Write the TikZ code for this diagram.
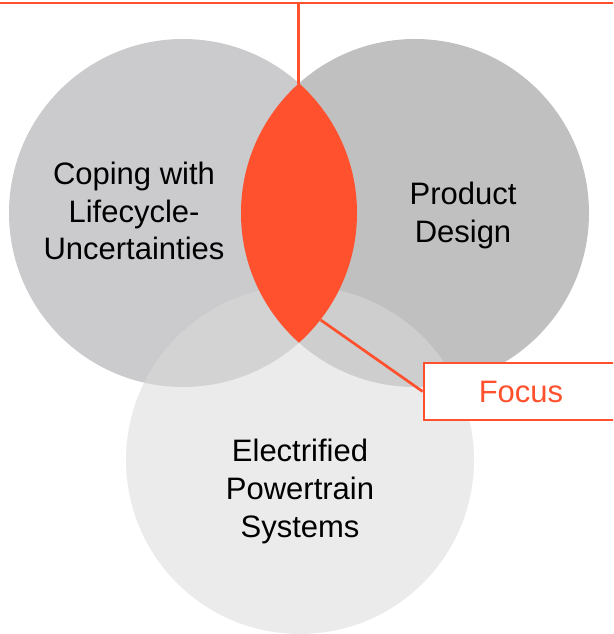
\documentclass[tikz,border=0pt]{standalone}
\usepackage{fontspec}
\setmainfont{Liberation Sans}
\definecolor{accent}{RGB}{255,81,46}
\definecolor{greyL}{RGB}{203,203,205}
\definecolor{greyR}{RGB}{192,192,192}
\definecolor{greyB}{RGB}{219,219,219}
\begin{document}
\begin{tikzpicture}[x=1pt,y=-1pt,
  label/.style={inner sep=0pt, align=center, font=\fontsize{31}{37.7}\selectfont, text=black},
  setcircle/.style={circle, minimum size=348pt, inner sep=0pt, draw=none},
  accentline/.style={draw=accent, line width=2.7pt},
]
\useasboundingbox (0,0) rectangle (613,634);
\clip (0,0) rectangle (613,634);
% circles
\node[setcircle, fill=greyL] (L) at (183,213) {};
\node[setcircle, fill=greyR] (R) at (415,213) {};
\node[setcircle, fill=greyB, fill opacity=0.55] (B) at (300,460) {};
% lens
\begin{scope}
  \clip (183,213) circle (174);
  \fill[accent] (415,213) circle (174);
\end{scope}
% connectors
\coordinate (barL) at (-5,3);
\coordinate (barR) at (620,3);
\coordinate (barM) at (298.6,3);
\coordinate (lenstop) at (298.6,84);
\coordinate (lensedge) at (320.7,320);
\draw[accentline] (barL) -- (barR);
\draw[accentline] (barM) -- (lenstop);
\node[draw=accent, line width=2.7pt, fill=white, minimum width=194pt, minimum height=57pt, inner sep=0pt,
      font=\fontsize{31}{37.7}\selectfont, text=accent] (focus) at (521,391.5) {Focus};
\draw[accentline] (lensedge) -- (focus.west);
% labels
\node[label] (tl) at (134,211) {Coping with\\Lifecycle-\\Uncertainties};
\node[label] (tr) at (463,215.5) {Product\\Design};
\node[label] (tb) at (300,491.6) {Electrified\\Powertrain\\Systems};
\end{tikzpicture}
\end{document}
